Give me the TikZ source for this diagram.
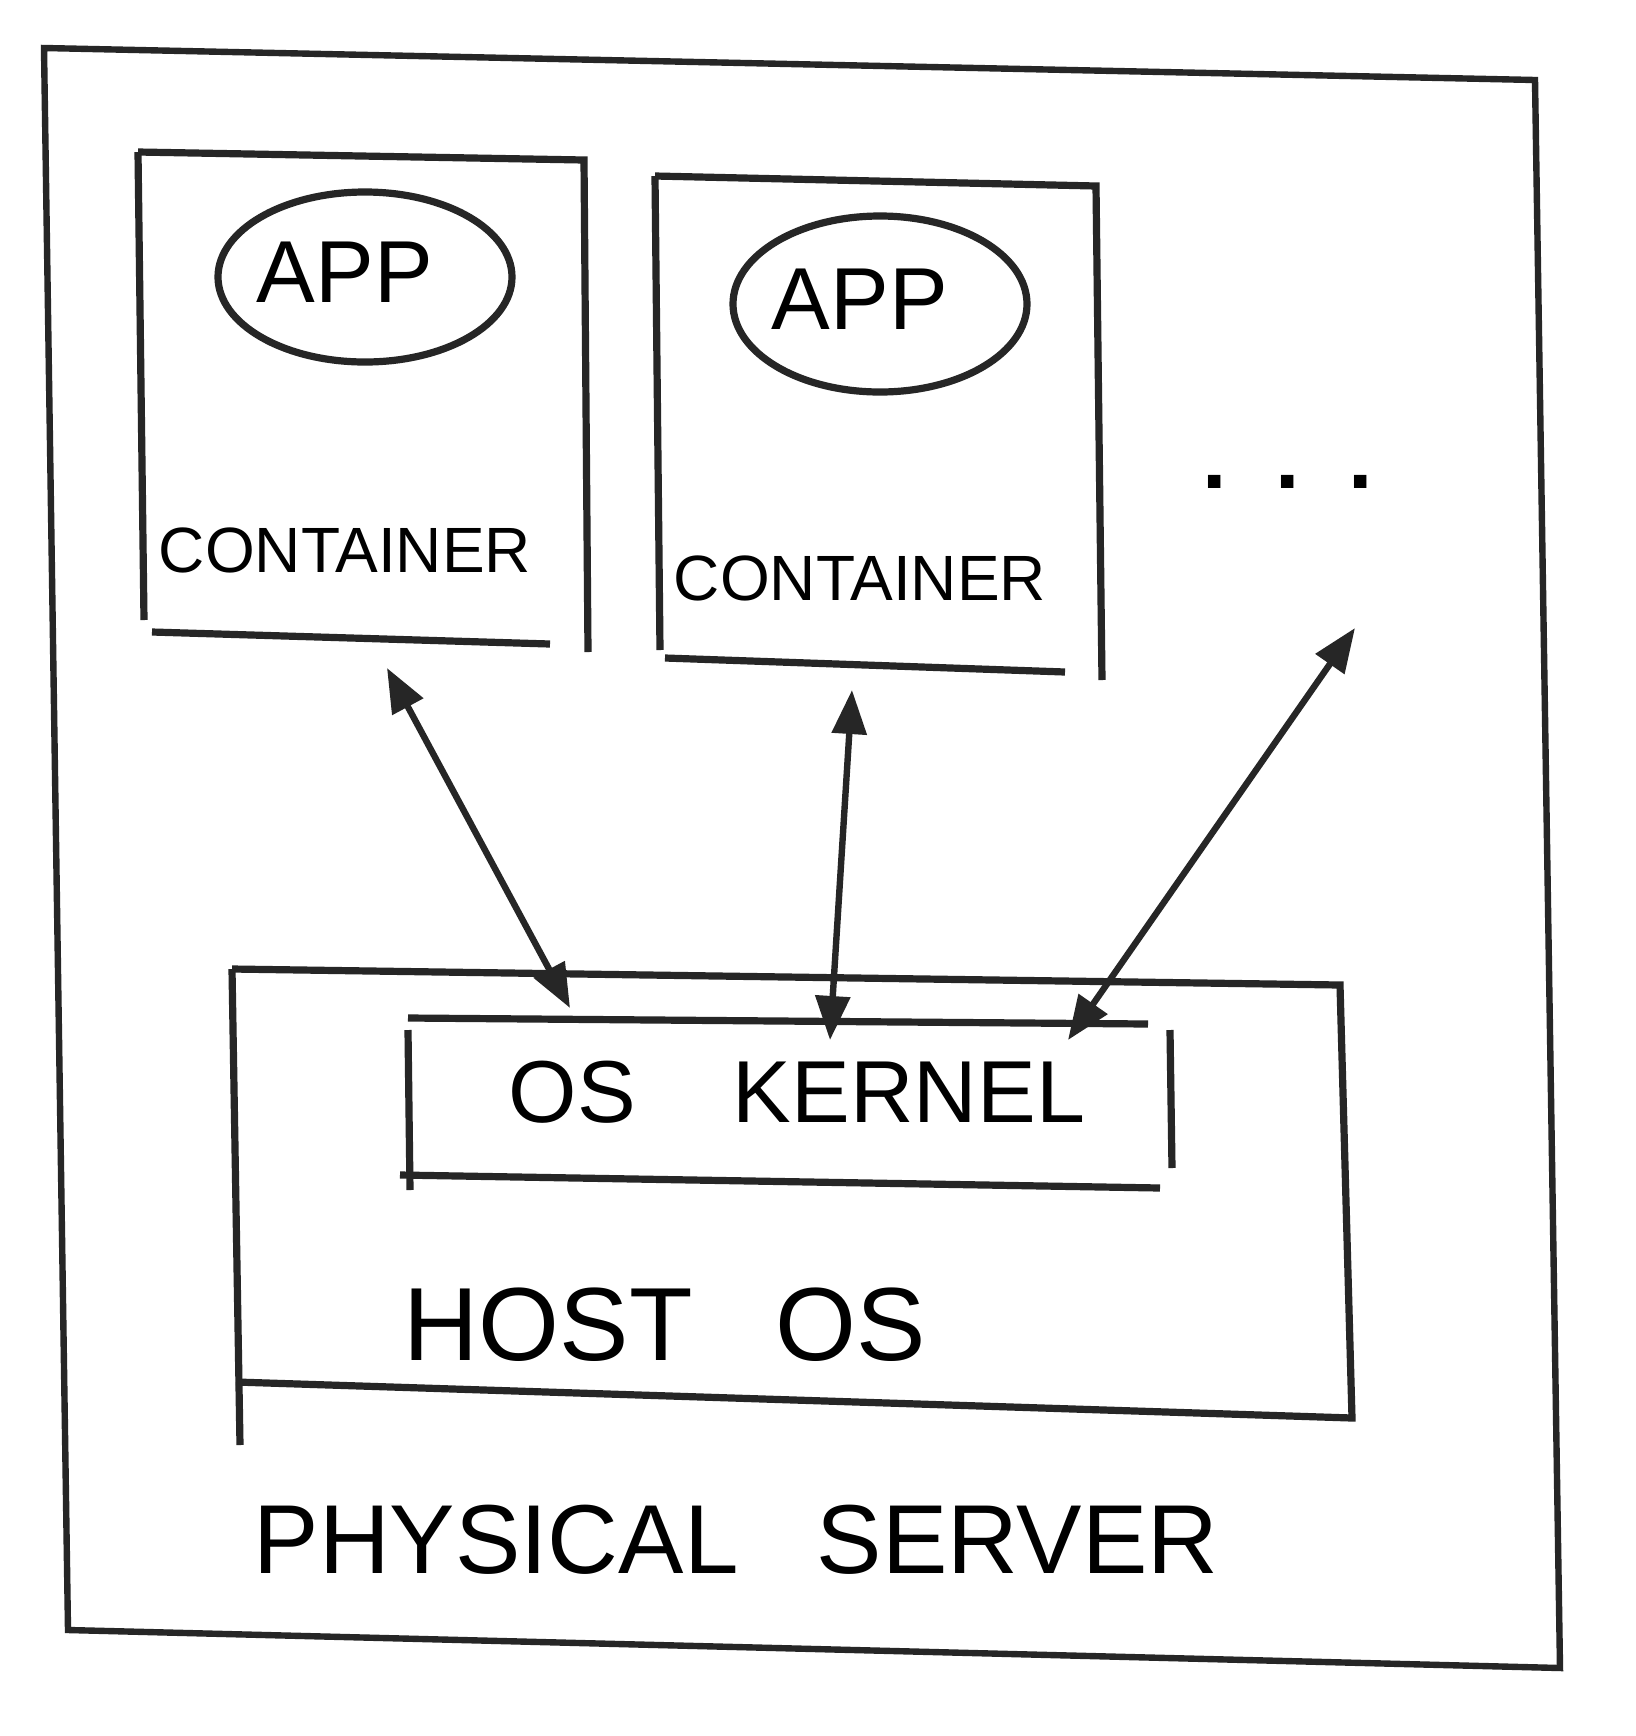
\documentclass[tikz,border=0pt]{standalone}
\usepackage{fontspec}
\setmainfont{Liberation Sans}
\usetikzlibrary{arrows.meta,shapes.geometric}
\begin{document}
\begin{tikzpicture}[x=0.5pt,y=-0.5pt,
  sk/.style={line width=3.6pt,black!85},
  skthin/.style={line width=3.2pt,black!85},
  lbl/.style={inner sep=0pt,font=\fontsize{#1}{#1}\selectfont},
  biarrow/.style={line width=3.2pt,black!85,{Triangle[length=22pt,width=17pt]}-{Triangle[length=22pt,width=17pt]}}
]
\useasboundingbox (0,0) rectangle (1636,1736);
\fill[white] (0,0) rectangle (1636,1736);
% physical server
\draw[skthin] (44,48) -- (1535,80) -- (1560,1668) -- (68,1630) -- cycle;
\node[lbl=49pt] (ps) at (736,1540) {PHYSICAL\hspace{0.8em}SERVER};
% containers
\draw[sk] (138,152) -- (584,160) -- (588,652) ;
\draw[sk] (138,152) -- (144,620) ;
\draw[sk] (152,632) -- (550,644);
\draw[sk] (655,176) -- (1096,186) -- (1102,680);
\draw[sk] (655,176) -- (660,650);
\draw[sk] (665,658) -- (1065,672);
\node[draw,sk,ellipse,minimum width=147pt,minimum height=85pt] (e1) at (365,277) {};
\node[lbl=44pt] (app1) at (345,272) {APP};
\node[draw,sk,ellipse,minimum width=147pt,minimum height=88pt] (e2) at (880,304) {};
\node[lbl=44pt] (app2) at (860,299) {APP};
\node[lbl=32pt] (c1) at (345,550) {CONTAINER};
\node[lbl=32pt] (c2) at (860,578) {CONTAINER};
\node[lbl=44pt] (dots) at (1288,482) {\textbf{.}\hspace{0.55em}\textbf{.}\hspace{0.55em}\textbf{.}};
% host os
\draw[sk] (232,969) -- (1340,985) -- (1352,1418) -- (236,1382) ;
\draw[sk] (232,969) -- (240,1445);
\node[lbl=52pt] (host) at (665,1325) {HOST\hspace{0.8em}OS};
% os kernel
\draw[sk] (408,1018) -- (1148,1024);
\draw[sk] (400,1175) -- (1160,1188);
\draw[sk] (408,1030) -- (410,1190);
\draw[sk] (1170,1030) -- (1172,1168);
\coordinate (k1) at (570,1008);
\coordinate (k2) at (830,1040);
\coordinate (k3) at (1068,1040);
\node[lbl=44pt] (kern) at (797,1092) {OS\hspace{1.1em}KERNEL};
% arrows
\coordinate (t1) at (387,668);
\coordinate (t2) at (852,690);
\coordinate (t3) at (1355,628);
\draw[biarrow] (t1) -- (k1);
\draw[biarrow] (t2) -- (k2);
\draw[biarrow] (t3) -- (k3);
\end{tikzpicture}
\end{document}
